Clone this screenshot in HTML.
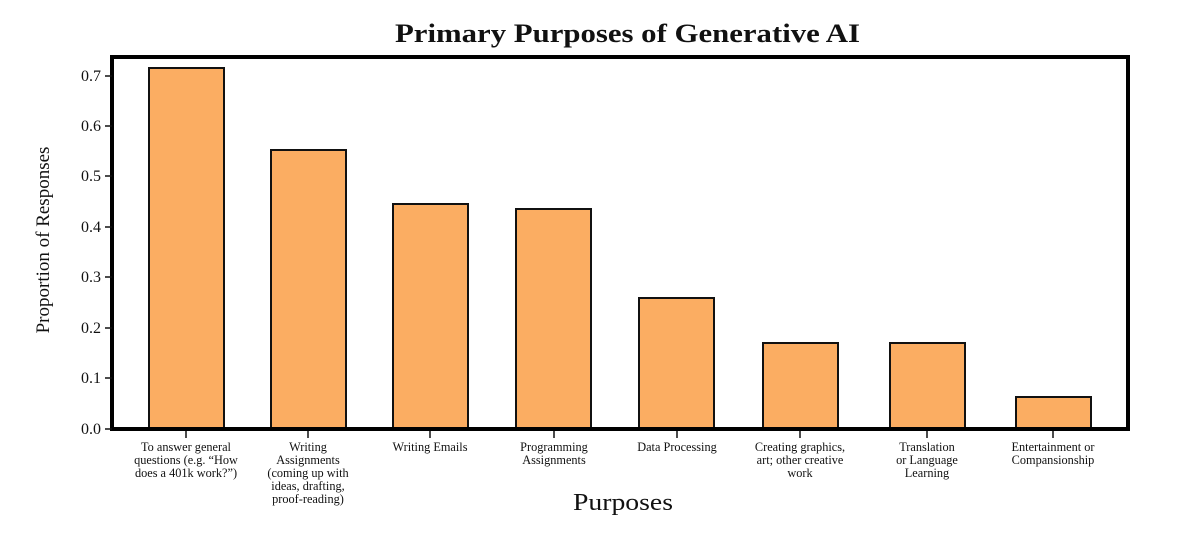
<!DOCTYPE html>
<html><head><meta charset="utf-8"><style>
body{margin:0;background:#fff}
svg text{font-family:"Liberation Serif",serif;fill:#111}
</style></head><body>
<svg width="1200" height="537" xmlns="http://www.w3.org/2000/svg">
<text x="395" y="42" font-size="26" font-weight="bold" textLength="465" lengthAdjust="spacingAndGlyphs">Primary Purposes of Generative AI</text>
<g fill="#fbad62" stroke="#111" stroke-width="2">
<rect x="149" y="68" width="75" height="361"/>
<rect x="271" y="150" width="75" height="279"/>
<rect x="393" y="204" width="75" height="225"/>
<rect x="516" y="209" width="75" height="220"/>
<rect x="639" y="298" width="75" height="131"/>
<rect x="763" y="343" width="75" height="86"/>
<rect x="890" y="343" width="75" height="86"/>
<rect x="1016" y="397" width="75" height="32"/>
</g>
<rect x="112" y="57" width="1016" height="372" fill="none" stroke="#000" stroke-width="4"/>
<g stroke="#111" stroke-width="1.5">
<line x1="105" y1="429" x2="112" y2="429"/><line x1="105" y1="378" x2="112" y2="378"/>
<line x1="105" y1="328" x2="112" y2="328"/><line x1="105" y1="277" x2="112" y2="277"/>
<line x1="105" y1="227" x2="112" y2="227"/><line x1="105" y1="176" x2="112" y2="176"/>
<line x1="105" y1="126" x2="112" y2="126"/><line x1="105" y1="76" x2="112" y2="76"/>
<line x1="186" y1="431" x2="186" y2="438"/><line x1="308" y1="431" x2="308" y2="438"/>
<line x1="430" y1="431" x2="430" y2="438"/><line x1="554" y1="431" x2="554" y2="438"/>
<line x1="677" y1="431" x2="677" y2="438"/><line x1="800" y1="431" x2="800" y2="438"/>
<line x1="927" y1="431" x2="927" y2="438"/><line x1="1053" y1="431" x2="1053" y2="438"/>
</g>
<g font-size="16" text-anchor="end">
<text x="101" y="434">0.0</text><text x="101" y="383">0.1</text><text x="101" y="333">0.2</text>
<text x="101" y="282">0.3</text><text x="101" y="232">0.4</text><text x="101" y="181">0.5</text>
<text x="101" y="131">0.6</text><text x="101" y="81">0.7</text>
</g>
<g font-size="12.3" text-anchor="middle">
<text x="186" y="451">To answer general</text><text x="186" y="464">questions (e.g. “How</text><text x="186" y="477">does a 401k work?”)</text>
<text x="308" y="451">Writing</text><text x="308" y="464">Assignments</text><text x="308" y="477">(coming up with</text><text x="308" y="490">ideas, drafting,</text><text x="308" y="503">proof-reading)</text>
<text x="430" y="451">Writing Emails</text>
<text x="554" y="451">Programming</text><text x="554" y="464">Assignments</text>
<text x="677" y="451">Data Processing</text>
<text x="800" y="451">Creating graphics,</text><text x="800" y="464">art; other creative</text><text x="800" y="477">work</text>
<text x="927" y="451">Translation</text><text x="927" y="464">or Language</text><text x="927" y="477">Learning</text>
<text x="1053" y="451">Entertainment or</text><text x="1053" y="464">Compansionship</text>
</g>
<text x="573" y="510" font-size="24" textLength="100" lengthAdjust="spacingAndGlyphs">Purposes</text>
<text transform="translate(49,240) rotate(-90)" font-size="19" text-anchor="middle">Proportion of Responses</text>
</svg>
</body></html>
